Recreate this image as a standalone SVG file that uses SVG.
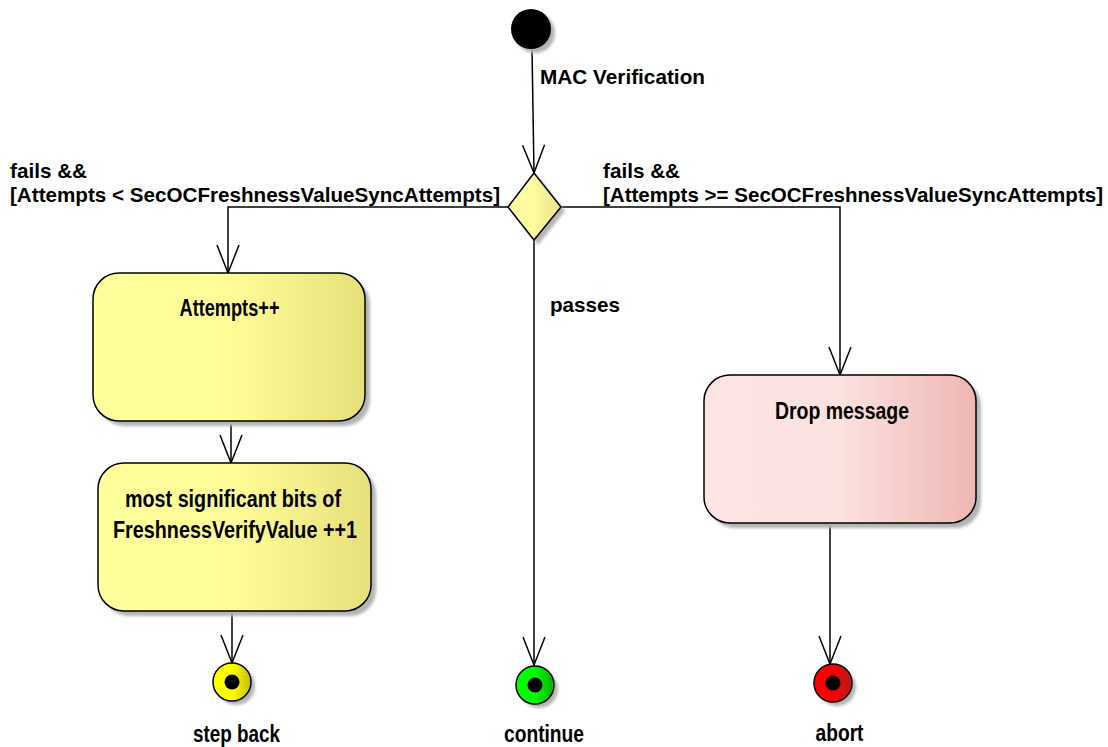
<svg xmlns="http://www.w3.org/2000/svg" width="1108" height="747" viewBox="0 0 1108 747">
<style>
.lbl{font-family:"Liberation Sans",Arial,sans-serif;font-weight:bold;font-size:20.5px;fill:#000}
.ntx{font-family:"Liberation Sans",Arial,sans-serif;font-weight:bold;font-size:23px;fill:#000}
.box{stroke:#000;stroke-width:1.5}
.shadow{fill:#b4b4b4;filter:url(#blur)}
.conn{fill:none;stroke:#000;stroke-width:1.5}
</style>
<defs>
<filter id="blur" x="-20%" y="-20%" width="140%" height="140%"><feGaussianBlur stdDeviation="1.5"/></filter>
<linearGradient id="gYel" x1="0" y1="0" x2="1" y2="0">
<stop offset="0" stop-color="#FFFF9C"/><stop offset="0.5" stop-color="#FFFD98"/><stop offset="1" stop-color="#E6E07A"/>
</linearGradient>
<linearGradient id="gPink" x1="0" y1="0" x2="1" y2="0">
<stop offset="0" stop-color="#FCE4E2"/><stop offset="0.5" stop-color="#FCE2E0"/><stop offset="1" stop-color="#EFB7B4"/>
</linearGradient>
<linearGradient id="gDia" x1="0" y1="0" x2="1" y2="0">
<stop offset="0" stop-color="#FFFFA4"/><stop offset="0.5" stop-color="#FDFB9E"/><stop offset="1" stop-color="#E6E286"/>
</linearGradient>
<linearGradient id="gFy" x1="0" y1="0" x2="1" y2="0">
<stop offset="0" stop-color="#FFFF00"/><stop offset="0.5" stop-color="#FFFF00"/><stop offset="1" stop-color="#C4BC00"/>
</linearGradient>
<linearGradient id="gFg" x1="0" y1="0" x2="1" y2="0">
<stop offset="0" stop-color="#00FF00"/><stop offset="0.5" stop-color="#00FA00"/><stop offset="1" stop-color="#00B400"/>
</linearGradient>
<linearGradient id="gFr" x1="0" y1="0" x2="1" y2="0">
<stop offset="0" stop-color="#FF0000"/><stop offset="0.5" stop-color="#F80000"/><stop offset="1" stop-color="#BC1A1A"/>
</linearGradient>
<marker id="arr" markerUnits="userSpaceOnUse" viewBox="-30 -14 32 28" refX="0" refY="0" markerWidth="32" markerHeight="28" orient="auto" overflow="visible">
<path d="M -28 -11 L 0 0 L -28 11" fill="none" stroke="#000" stroke-width="1.5"/>
</marker>
</defs>
<rect width="1108" height="747" fill="#fff"/>

<g id="connectors">
<path class="conn" d="M 532 49 L 534 173" marker-end="url(#arr)"/>
<path class="conn" d="M 508 207 L 228 207 L 228 273" marker-end="url(#arr)"/>
<path class="conn" d="M 561 207 L 840 207 L 840 375" marker-end="url(#arr)"/>
<path class="conn" d="M 534 240 L 534 665" marker-end="url(#arr)"/>
<path class="conn" d="M 231 421 L 231 463" marker-end="url(#arr)"/>
<path class="conn" d="M 232 611 L 232 663" marker-end="url(#arr)"/>
<path class="conn" d="M 830 523 L 830 664" marker-end="url(#arr)"/>
<text class="lbl" x="540" y="84" textLength="165" lengthAdjust="spacingAndGlyphs">MAC Verification</text>
<text class="lbl" x="10" y="178" textLength="77" lengthAdjust="spacingAndGlyphs">fails &amp;&amp;</text>
<text class="lbl" x="10" y="202" textLength="490" lengthAdjust="spacingAndGlyphs">[Attempts &lt; SecOCFreshnessValueSyncAttempts]</text>
<text class="lbl" x="603" y="178" textLength="77" lengthAdjust="spacingAndGlyphs">fails &amp;&amp;</text>
<text class="lbl" x="603" y="202" textLength="500" lengthAdjust="spacingAndGlyphs">[Attempts &gt;= SecOCFreshnessValueSyncAttempts]</text>
<text class="lbl" x="550" y="312" textLength="70" lengthAdjust="spacingAndGlyphs">passes</text>
</g>

<g id="initial">
<circle class="shadow" cx="535" cy="33" r="20"/>
<circle cx="531" cy="29" r="20" fill="#000"/>
</g>

<g id="decision">
<path class="shadow" d="M 538 177 L 565 211 L 538 245 L 512 211 Z"/>
<path class="box" d="M 534 173 L 561 207 L 534 240 L 508 207 Z" fill="url(#gDia)"/>
</g>

<g id="attempts">
<rect class="shadow" x="98" y="278" width="272" height="148" rx="26"/>
<rect class="box" x="93" y="273" width="272" height="148" rx="26" fill="url(#gYel)"/>
<text class="ntx" x="229.5" y="316" text-anchor="middle" textLength="100" lengthAdjust="spacingAndGlyphs">Attempts++</text>
</g>

<g id="msb">
<rect class="shadow" x="103" y="468" width="273" height="148" rx="26"/>
<rect class="box" x="98" y="463" width="273" height="148" rx="26" fill="url(#gYel)"/>
<text class="ntx" x="233" y="507" text-anchor="middle" textLength="216" lengthAdjust="spacingAndGlyphs">most significant bits of</text>
<text class="ntx" x="235" y="538" text-anchor="middle" textLength="244" lengthAdjust="spacingAndGlyphs">FreshnessVerifyValue ++1</text>
</g>

<g id="drop">
<rect class="shadow" x="709" y="380" width="272" height="148" rx="26"/>
<rect class="box" x="704" y="375" width="272" height="148" rx="26" fill="url(#gPink)"/>
<text class="ntx" x="842" y="419" text-anchor="middle" textLength="134" lengthAdjust="spacingAndGlyphs">Drop message</text>
</g>

<g id="stepback">
<circle class="shadow" cx="236" cy="686" r="19"/>
<circle class="box" cx="232" cy="682" r="19" fill="url(#gFy)"/>
<circle cx="232" cy="682" r="7.5" fill="#000"/>
<text class="ntx" x="236.5" y="742" text-anchor="middle" textLength="87" lengthAdjust="spacingAndGlyphs">step back</text>
</g>

<g id="continue">
<circle class="shadow" cx="539" cy="689" r="19"/>
<circle class="box" cx="535" cy="685" r="19" fill="url(#gFg)"/>
<circle cx="535" cy="685" r="7.5" fill="#000"/>
<text class="ntx" x="544" y="742" text-anchor="middle" textLength="80" lengthAdjust="spacingAndGlyphs">continue</text>
</g>

<g id="abort">
<circle class="shadow" cx="837" cy="687" r="19"/>
<circle class="box" cx="833" cy="683" r="19" fill="url(#gFr)"/>
<circle cx="833" cy="683" r="7.5" fill="#000"/>
<text class="ntx" x="839.5" y="741" text-anchor="middle" textLength="48" lengthAdjust="spacingAndGlyphs">abort</text>
</g>
</svg>
